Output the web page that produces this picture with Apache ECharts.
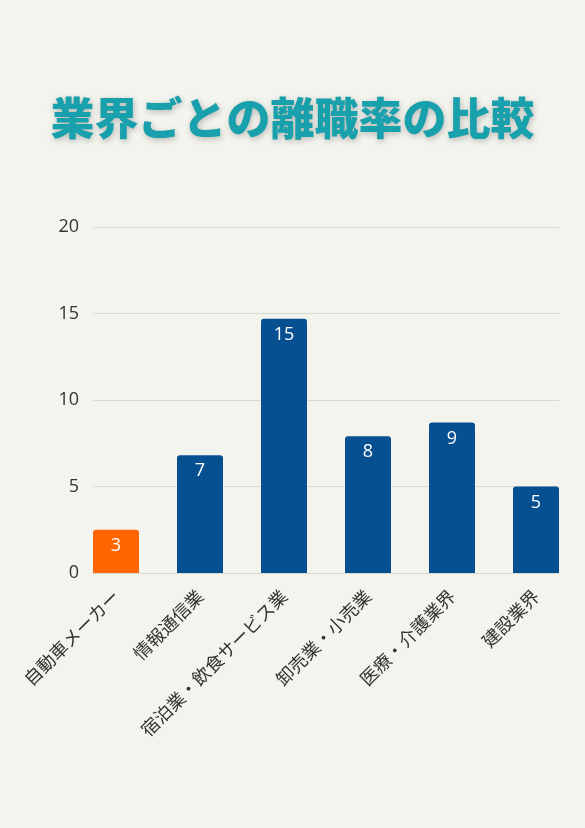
<!DOCTYPE html>
<html>
<head>
<meta charset="utf-8">
<script src="https://cdn.jsdelivr.net/npm/echarts@6/dist/echarts.min.js"></script>
<style>
  html, body { margin: 0; padding: 0; background: #f4f4ef; }
  #chart { width: 585px; height: 828px; }
</style>
</head>
<body>
<div id="chart"></div>
<script>
// 業界
var categories = ['自動車メーカー', '情報通信業', '宿泊業・飲食サービス業', '卸売業・小売業', '医療・介護業界', '建設業界'];
// 離職率 (%)
var rates = [2.5, 6.8, 14.7, 7.9, 8.7, 5.0];
var yTicks = [0, 5, 10, 15, 20];

var blue = '#064f91';
var orange = '#ff6600';

var myChart = echarts.init(document.getElementById('chart'));

var barData = rates.map(function (v, i) {
    return {
        value: v,
        itemStyle: { color: i === 0 ? orange : blue }
    };
});

var option = {
    backgroundColor: '#f4f4ef',
    title: {
        text: '業界ごとの離職率の比較',
        left: 'center',
        top: 91,
        textStyle: {
            fontFamily: 'Noto Sans CJK JP',
            fontWeight: 900,
            fontSize: 44,
            color: '#18a1ac',
            textShadowColor: 'rgba(0,0,0,0.25)',
            textShadowBlur: 6,
            textShadowOffsetX: 1,
            textShadowOffsetY: 2
        }
    },
    // grid 0: 目盛りと横線だけ, grid 1: 棒
    grid: [
        { left: 93, right: 26, top: 227, bottom: 255 },
        { left: 74, right: 7, top: 227, bottom: 255 }
    ],
    xAxis: [
        {
            gridIndex: 0,
            type: 'category',
            data: categories,
            show: false
        },
        {
            gridIndex: 1,
            type: 'category',
            data: categories,
            axisLine: { show: false },
            axisTick: { show: false },
            axisLabel: {
                interval: 0,
                rotate: 45,
                margin: 20,
                fontFamily: 'Noto Sans CJK JP',
                fontSize: 18,
                color: '#333333'
            }
        }
    ],
    yAxis: [
        {
            gridIndex: 0,
            type: 'value',
            min: yTicks[0],
            max: yTicks[yTicks.length - 1],
            interval: 5,
            axisLine: { show: false },
            axisTick: { show: false },
            axisLabel: {
                margin: 14,
                fontFamily: 'Open Sans',
                fontSize: 18,
                color: '#333333'
            },
            splitLine: { lineStyle: { color: '#d9d9d4', width: 1 } }
        },
        {
            gridIndex: 1,
            type: 'value',
            min: yTicks[0],
            max: yTicks[yTicks.length - 1],
            interval: 5,
            show: false
        }
    ],
    series: [
        {
            type: 'bar',
            xAxisIndex: 1,
            yAxisIndex: 1,
            data: barData,
            barWidth: 46,
            itemStyle: { borderRadius: [3, 3, 0, 0] },
            label: {
                show: true,
                position: 'insideTop',
                distance: 7,
                fontFamily: 'Open Sans',
                fontSize: 18,
                color: '#ffffff',
                formatter: function (p) {
                    return Math.round(p.value);
                }
            }
        }
    ]
};

myChart.setOption(option);
</script>
</body>
</html>
